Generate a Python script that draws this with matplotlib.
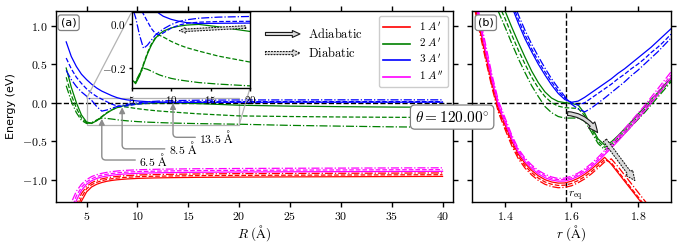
import matplotlib.pyplot as plt
from matplotlib.ticker import FuncFormatter
from matplotlib.patches import FancyArrowPatch
from mpl_toolkits.axes_grid1.inset_locator import mark_inset

plt.rcParams['mathtext.fontset'] = 'cm'
plt.rcParams['font.size'] = 8.5
plt.rcParams['axes.linewidth'] = 1.0

# ---- panel (a): energies vs R (Angstrom) ----
R = [3, 3.5, 4, 4.5, 5, 5.5, 6, 6.5, 7, 7.5, 8, 8.5, 9, 10, 11, 12, 13.5, 16, 20, 25, 30, 35, 40]

a_3Ap = {
    '-':  [0.79, 0.60, 0.47, 0.37, 0.30, 0.24, 0.19, 0.15, 0.12, 0.09, 0.065, 0.048, 0.036, 0.022, 0.013, 0.007, 0.003, 0.004, 0.005, 0.006, 0.006, 0.006, 0.006],
    '--': [0.58, 0.44, 0.33, 0.25, 0.18, 0.125, 0.08, 0.045, 0.012, -0.02, -0.042, -0.048, -0.04, -0.018, -0.004, 0.004, 0.009, 0.012, 0.013, 0.014, 0.014, 0.014, 0.014],
    '-.': [0.42, 0.30, 0.21, 0.14, 0.085, 0.03, -0.05, -0.11, -0.095, -0.072, -0.05, -0.035, -0.022, -0.002, 0.012, 0.02, 0.027, 0.032, 0.035, 0.036, 0.037, 0.037, 0.037],
}
a_2Ap = {
    '-':  [0.45, 0.20, 0.0, -0.16, -0.25, -0.27, -0.235, -0.185, -0.135, -0.095, -0.065, -0.045, -0.032, -0.017, -0.009, -0.004, -0.001, -0.012, -0.033, -0.045, -0.052, -0.057, -0.06],
    '--': [0.33, 0.10, -0.07, -0.20, -0.26, -0.265, -0.23, -0.18, -0.13, -0.09, -0.062, -0.05, -0.058, -0.078, -0.094, -0.107, -0.122, -0.145, -0.172, -0.18, -0.186, -0.19, -0.192],
    '-.': [0.22, 0.02, -0.13, -0.23, -0.27, -0.26, -0.225, -0.20, -0.205, -0.213, -0.222, -0.23, -0.236, -0.246, -0.253, -0.258, -0.265, -0.272, -0.28, -0.295, -0.305, -0.314, -0.32],
}
a_1App = {
    '-':  [-1.9, -1.5, -1.27, -1.14, -1.06, -1.015, -0.985, -0.965, -0.952, -0.943, -0.935, -0.929, -0.925, -0.918, -0.914, -0.911, -0.908, -0.904, -0.901, -0.898, -0.896, -0.894, -0.892],
    '--': [-1.75, -1.4, -1.21, -1.10, -1.03, -0.99, -0.96, -0.942, -0.93, -0.92, -0.912, -0.906, -0.902, -0.896, -0.892, -0.889, -0.886, -0.882, -0.879, -0.876, -0.874, -0.872, -0.87],
    '-.': [-1.6, -1.3, -1.15, -1.06, -1.0, -0.96, -0.935, -0.918, -0.905, -0.895, -0.888, -0.882, -0.878, -0.872, -0.868, -0.865, -0.862, -0.858, -0.855, -0.852, -0.85, -0.848, -0.846],
}
a_1Ap = {
    '-':  [-2.2, -1.8, -1.48, -1.28, -1.16, -1.095, -1.06, -1.037, -1.021, -1.01, -1.002, -0.996, -0.991, -0.984, -0.98, -0.977, -0.974, -0.97, -0.967, -0.964, -0.962, -0.96, -0.958],
    '--': [-2.1, -1.7, -1.4, -1.23, -1.12, -1.065, -1.035, -1.013, -0.998, -0.988, -0.98, -0.974, -0.969, -0.962, -0.958, -0.955, -0.952, -0.948, -0.945, -0.942, -0.94, -0.938, -0.936],
    '-.': [-2.0, -1.6, -1.33, -1.18, -1.09, -1.04, -1.01, -0.99, -0.976, -0.966, -0.958, -0.952, -0.947, -0.94, -0.936, -0.933, -0.93, -0.926, -0.922, -0.919, -0.917, -0.915, -0.913],
}

# ---- panel (b): energies vs r (Angstrom) ----
r = [1.30, 1.32, 1.34, 1.36, 1.38, 1.40, 1.42, 1.44, 1.46, 1.48, 1.50, 1.52, 1.54, 1.56, 1.58, 1.60,
     1.62, 1.64, 1.66, 1.68, 1.70, 1.72, 1.74, 1.76, 1.78, 1.80, 1.82, 1.84, 1.86, 1.88, 1.90]
r_eq = 1.583

b_3Ap = {
    '-':  [3.0, 2.7, 2.4, 2.1, 1.8, 1.52, 1.25, 1.03, 0.83, 0.66, 0.50, 0.36, 0.23, 0.12, 0.04, 0.005, 0.02, 0.07, 0.13, 0.19, 0.25, 0.31, 0.38, 0.44, 0.51, 0.58, 0.65, 0.72, 0.80, 0.88, 0.96],
    '--': [3.0, 2.7, 2.4, 2.1, 1.8, 1.55, 1.30, 1.08, 0.88, 0.70, 0.54, 0.40, 0.27, 0.15, 0.06, 0.0, -0.03, 0.0, 0.06, 0.12, 0.18, 0.24, 0.31, 0.37, 0.44, 0.50, 0.57, 0.65, 0.72, 0.80, 0.89],
    '-.': [3.0, 2.7, 2.4, 2.1, 1.85, 1.60, 1.36, 1.14, 0.94, 0.76, 0.60, 0.45, 0.31, 0.19, 0.08, -0.02, -0.08, -0.12, -0.07, -0.005, 0.06, 0.13, 0.20, 0.27, 0.35, 0.42, 0.50, 0.58, 0.66, 0.75, 0.84],
}
b_2Ap = {
    '-':  [2.3, 2.05, 1.8, 1.58, 1.38, 1.19, 0.98, 0.78, 0.59, 0.41, 0.26, 0.14, 0.06, 0.015, 0.0, -0.01, -0.03, -0.14, -0.31, -0.47, -0.55, -0.51, -0.43, -0.34, -0.25, -0.15, -0.06, 0.04, 0.13, 0.23, 0.32],
    '--': [2.2, 1.95, 1.7, 1.48, 1.28, 1.09, 0.88, 0.68, 0.50, 0.33, 0.19, 0.08, 0.0, -0.045, -0.065, -0.07, -0.075, -0.17, -0.34, -0.50, -0.58, -0.54, -0.46, -0.37, -0.28, -0.18, -0.09, 0.01, 0.10, 0.20, 0.29],
    '-.': [2.1, 1.85, 1.6, 1.38, 1.18, 0.98, 0.77, 0.57, 0.39, 0.22, 0.08, -0.05, -0.13, -0.18, -0.20, -0.20, -0.20, -0.24, -0.38, -0.53, -0.61, -0.57, -0.49, -0.40, -0.31, -0.22, -0.13, -0.03, 0.07, 0.17, 0.27],
}
b_1App = {
    '-':  [1.5, 1.1, 0.69, 0.30, -0.04, -0.26, -0.47, -0.645, -0.765, -0.855, -0.925, -0.975, -1.005, -1.02, -1.018, -0.995, -0.957, -0.905, -0.84, -0.76, -0.675, -0.59, -0.50, -0.405, -0.31, -0.21, -0.11, -0.005, 0.10, 0.21, 0.32],
    '--': [1.55, 1.14, 0.73, 0.33, -0.01, -0.23, -0.44, -0.62, -0.74, -0.83, -0.90, -0.95, -0.985, -1.0, -0.998, -0.975, -0.935, -0.88, -0.815, -0.735, -0.65, -0.56, -0.47, -0.375, -0.275, -0.175, -0.075, 0.03, 0.14, 0.25, 0.36],
    '-.': [1.6, 1.19, 0.78, 0.37, 0.02, -0.20, -0.42, -0.60, -0.72, -0.81, -0.88, -0.93, -0.965, -0.985, -0.98, -0.955, -0.915, -0.86, -0.79, -0.71, -0.62, -0.53, -0.44, -0.34, -0.24, -0.14, -0.04, 0.07, 0.18, 0.29, 0.40],
}
b_1Ap = {
    '-':  [1.45, 1.05, 0.65, 0.26, -0.07, -0.29, -0.50, -0.67, -0.79, -0.88, -0.95, -1.0, -1.03, -1.045, -1.043, -1.02, -0.983, -0.93, -0.865, -0.79, -0.71, -0.80, -0.91, -1.02, -1.13, -1.24, -1.35, -1.46, -1.57, -1.68, -1.79],
    '--': [1.42, 1.02, 0.62, 0.23, -0.10, -0.32, -0.53, -0.70, -0.82, -0.91, -0.98, -1.03, -1.06, -1.075, -1.072, -1.05, -1.012, -0.96, -0.895, -0.82, -0.74, -0.78, -0.89, -1.0, -1.11, -1.22, -1.33, -1.44, -1.55, -1.66, -1.77],
    '-.': [1.38, 0.98, 0.58, 0.20, -0.13, -0.35, -0.56, -0.73, -0.85, -0.94, -1.01, -1.06, -1.09, -1.105, -1.10, -1.08, -1.04, -0.99, -0.925, -0.85, -0.77, -0.73, -0.83, -0.94, -1.05, -1.16, -1.27, -1.38, -1.49, -1.60, -1.71],
}

state_labels = ["$1\\ A'$", "$2\\ A'$", "$3\\ A'$", "$1\\ A''$"]
state_colors = ['red', 'green', 'blue', 'magenta']

fig = plt.figure(figsize=(6.84, 2.46), dpi=100)
ax1 = fig.add_axes([0.0819, 0.179, 0.580, 0.776])
ax2 = fig.add_axes([0.690, 0.179, 0.291, 0.776])
axins = fig.add_axes([0.1925, 0.642, 0.173, 0.309])

a_sets = [a_1Ap, a_2Ap, a_3Ap, a_1App]
b_sets = [b_1Ap, b_2Ap, b_3Ap, b_1App]

for data, col in zip(a_sets, state_colors):
    for ls, vals in data.items():
        ax1.plot(R, vals, color=col, ls=ls, lw=0.9)
        axins.plot(R, vals, color=col, ls=ls, lw=0.9)
for data, col in zip(b_sets, state_colors):
    for ls, vals in data.items():
        ax2.plot(r, vals, color=col, ls=ls, lw=0.9)

# legend with solid handles only
handles = [plt.Line2D([], [], color=c, lw=1.2) for c in state_colors]
ax1.legend(handles, state_labels, loc='upper right', fontsize=8, handlelength=2.4,
           labelspacing=0.3, borderpad=0.4, fancybox=True, framealpha=1,
           edgecolor='0.8', borderaxespad=0.45)

fmt1 = FuncFormatter(lambda v, p: f'${v:.1f}$')
fmt_int = FuncFormatter(lambda v, p: f'${v:g}$')

ax1.set_xlim(2.0, 41.0)
ax1.set_ylim(-1.29, 1.19)
ax1.set_xticks([5, 10, 15, 20, 25, 30, 35, 40])
ax1.set_yticks([-1.0, -0.5, 0.0, 0.5, 1.0])
ax1.xaxis.set_major_formatter(fmt_int)
ax1.yaxis.set_major_formatter(fmt1)
ax1.axhline(0, color='k', ls='--', lw=1.0, zorder=1)
ax1.set_xlabel(r'$R\ (\mathrm{\AA})$', fontsize=9.5, labelpad=0)
ax1.set_ylabel('Energy (eV)', fontsize=8)
ax1.tick_params(direction='out', top=True, right=True, length=3.5, width=1, pad=2.5)

ax2.set_xlim(1.3, 1.9)
ax2.set_ylim(-1.29, 1.19)
ax2.set_xticks([1.4, 1.6, 1.8])
ax2.set_yticks([-1.0, -0.5, 0.0, 0.5, 1.0])
ax2.xaxis.set_major_formatter(fmt1)
ax2.tick_params(direction='out', top=True, right=True, left=True, labelleft=False,
                length=3.5, width=1, pad=2.5)
ax2.axhline(0, color='k', ls='--', lw=1.0, zorder=1)
ax2.axvline(r_eq, color='k', ls='--', lw=1.0, zorder=1)
ax2.set_xlabel(r'$r\ (\mathrm{\AA})$', fontsize=9.5, labelpad=0)
ax2.text(r_eq + 0.005, -1.21, r'$r_{\mathrm{eq}}$', fontsize=8, ha='left', va='center')

axins.set_xlim(5, 20)
axins.set_ylim(-0.29, 0.055)
axins.set_xticks([5, 10, 15, 20])
axins.set_yticks([0.0, -0.2])
axins.xaxis.set_major_formatter(fmt_int)
axins.yaxis.set_major_formatter(fmt1)
axins.tick_params(direction='out', length=2.5, width=1, pad=1.5, labelsize=8)
mark_inset(ax1, axins, loc1=2, loc2=4, fc='none', ec='0.7', lw=0.9)

# panel tags
box = dict(boxstyle='round,pad=0.25', fc='white', ec='0.5', lw=0.9)
ax1.text(0.012, 0.965, '(a)', transform=ax1.transAxes, fontsize=8, va='top', ha='left', bbox=box, zorder=5)
ax2.text(0.03, 0.965, '(b)', transform=ax2.transAxes, fontsize=8, va='top', ha='left', bbox=box, zorder=5)

fig.text(0.661, 0.524, r'$\theta = 120.00^{\circ}$', fontsize=11, ha='center', va='center',
         bbox=dict(boxstyle='round,pad=0.3', fc='white', ec='0.5', lw=0.9), zorder=10)

# gray annotations of crossing positions
for lab, xy, xt in [(r'$6.5\ \mathrm{\AA}$', (6.5, -0.21), (10.2, -0.745)),
                    (r'$8.5\ \mathrm{\AA}$', (8.5, -0.06), (13.1, -0.60)),
                    (r'$13.5\ \mathrm{\AA}$', (13.5, -0.005), (16.1, -0.45))]:
    ax1.annotate(lab, xy=xy, xytext=xt, fontsize=8.5, va='center', ha='left',
                 arrowprops=dict(arrowstyle='-|>', color='0.55', lw=1.0, shrinkA=1, shrinkB=0,
                                 connectionstyle='angle,angleA=0,angleB=90,rad=4'))

# arrow key
adia = dict(arrowstyle='simple,head_length=0.5,head_width=0.45,tail_width=0.2', fc='0.85', ec='0.1', lw=0.8)
dia = dict(arrowstyle='simple,head_length=0.5,head_width=0.45,tail_width=0.2', fc='0.85', ec='0.1', lw=0.8, ls=':')
ax1.add_patch(FancyArrowPatch((0.521, 0.88), (0.622, 0.88), transform=ax1.transAxes, mutation_scale=11, **adia))
ax1.add_patch(FancyArrowPatch((0.521, 0.78), (0.622, 0.78), transform=ax1.transAxes, mutation_scale=11, **dia))
ax1.text(0.635, 0.88, r'$\mathrm{Adiabatic}$', transform=ax1.transAxes, fontsize=9, va='center')
ax1.text(0.635, 0.78, r'$\mathrm{Diabatic}$', transform=ax1.transAxes, fontsize=9, va='center')

axins.add_patch(FancyArrowPatch((19.8, -0.012), (10.7, -0.03), mutation_scale=9, zorder=5, **dia))
ax2.add_patch(FancyArrowPatch((1.58, -0.14), (1.683, -0.42), mutation_scale=14, zorder=5,
                              connectionstyle='angle3,angleA=0,angleB=-60', **adia))
ax2.add_patch(FancyArrowPatch((1.696, -0.46), (1.796, -1.04), mutation_scale=14, zorder=5, **dia))

fig.savefig('out.png', dpi=100)
